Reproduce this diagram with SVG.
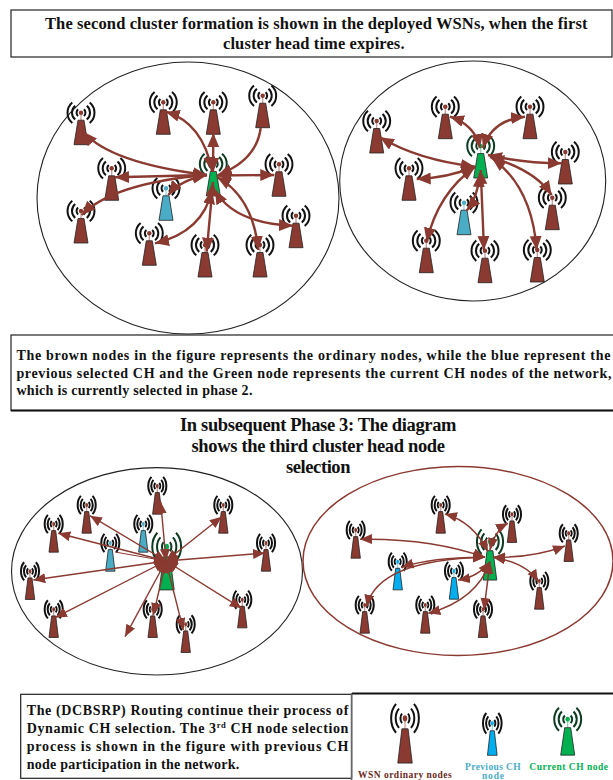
<svg xmlns="http://www.w3.org/2000/svg" width="613" height="780" viewBox="0 0 613 780">
<style>
text{font-family:"Liberation Serif","Times New Roman",serif;font-weight:bold;fill:#111}
.br{color:#8a3a30;--m:#c99a94}.bl{color:#4bacc6;--m:#9ad4e4}.sk{color:#00aeef;--m:#9ad4e4}.gr{color:#00b050;--m:#8fd0a8;--arc:#0c3b22}
.arcs{fill:none;stroke:var(--arc,#111);stroke-width:2;vector-effect:non-scaling-stroke}
.body{fill:currentColor;stroke:#222;stroke-width:.8;vector-effect:non-scaling-stroke}
.mast{stroke:var(--m);stroke-width:1.3;vector-effect:non-scaling-stroke}
.ball{fill:currentColor}
.box{fill:#fff;stroke:#222;stroke-width:1.2}
.cl{fill:none;stroke:#222;stroke-width:1.1}
.e{fill:none;stroke:#8a3a30;marker-start:url(#ah);marker-end:url(#ah)}
.a{stroke-width:2.4}.o{marker-start:none}
.b{stroke-width:1.4;marker-start:url(#ahs);marker-end:url(#ahs)}
.c{stroke-width:1.5;marker-start:url(#ahs);marker-end:url(#ahs)}
.l{font-size:9.5px}
</style>
<defs>
<marker id="ah" markerUnits="userSpaceOnUse" markerWidth="15" markerHeight="13" refX="14" refY="6" orient="auto-start-reverse"><path d="M0 0L14 6L0 12z" fill="#8a3a30"/></marker>
<marker id="ahs" markerUnits="userSpaceOnUse" markerWidth="13" markerHeight="11" refX="12" refY="5" orient="auto-start-reverse"><path d="M0 0L12 5L0 10z" fill="#8a3a30"/></marker>
<g id="t">
<path class="arcs" d="M2.9-3.4A4.5 4.5 0 0 1 2.9 3.4M-2.9-3.4A4.5 4.5 0 0 0-2.9 3.4M5.8-6.9A9 9 0 0 1 5.8 6.9M-5.8-6.9A9 9 0 0 0-5.8 6.9M8.7-10.3A13.5 13.5 0 0 1 8.7 10.3M-8.7-10.3A13.5 13.5 0 0 0-8.7 10.3"/>
<path class="mast" d="M0 0V8"/>
<circle class="ball" r="2.2"/>
<path class="body" d="M-3 7.5H3L7 32H-7z"/>
</g>
</defs>

<g id="cluster-ellipses">
<ellipse class="cl" cx="188" cy="198" rx="151" ry="136"/>
<ellipse class="cl" cx="472.7" cy="181" rx="133" ry="120"/>
<ellipse class="cl" cx="157" cy="571.3" rx="145.5" ry="103.7"/>
<ellipse class="cl" cx="458" cy="561" rx="155" ry="94.5" style="stroke:#8a3a30;stroke-width:1.5"/>
</g>

<g id="box-top"><rect class="box" x="11" y="10" width="601" height="47"/>
<text x="45" y="28.5" font-size="16.5" textLength="542.5">The second cluster formation is shown in the deployed WSNs, when the first</text>
<text x="223" y="48.5" font-size="16.5" textLength="181.5">cluster head time expires.</text></g>

<g id="box-middle"><rect class="box" x="11" y="335" width="608" height="75.5"/><path d="M11 410.5H613" stroke="#111" stroke-width="2.2"/>
<text x="16.4" y="360" font-size="14" textLength="594">The brown nodes in the figure represents the ordinary nodes, while the blue represent the</text>
<text x="16.4" y="377.5" font-size="14" textLength="595">previous selected CH and the Green node represents the current CH nodes of the network,</text>
<text x="16.4" y="395" font-size="14" textLength="236">which is currently selected in phase 2.</text></g>

<g id="title-phase3">
<text x="180" y="431" font-size="18.5" textLength="276.5">In subsequent Phase 3: The diagram</text>
<text x="191.5" y="452" font-size="18.5" textLength="253.5">shows the third cluster head node</text>
<text x="286" y="473" font-size="18.5" textLength="64.5">selection</text></g>

<g id="box-bottom"><rect class="box" x="20.7" y="694.3" width="331" height="84"/>
<text x="26.7" y="715" font-size="14" textLength="321.6">The (DCBSRP) Routing continue their process of</text>
<text x="26.7" y="733.3" font-size="14" textLength="321.6">Dynamic CH selection. The 3<tspan font-size="8.5" dy="-5">rd</tspan><tspan dy="5"> CH node selection</tspan></text>
<text x="26.7" y="751" font-size="14" textLength="321.6">process is shown in the figure with previous CH</text>
<text x="26.7" y="769" font-size="14" textLength="212.6">node participation in the network.</text></g>

<g id="nodes-1">
<g id="n1-1" class="br" transform="translate(81 112.7)"><use href="#t"/></g>
<g id="n1-2" class="br" transform="translate(163.3 102.3)"><use href="#t"/></g>
<g id="n1-3" class="br" transform="translate(213.3 102.3)"><use href="#t"/></g>
<g id="n1-4" class="br" transform="translate(262.7 95.7)"><use href="#t"/></g>
<g id="n1-5" class="gr" transform="translate(213.3 164)"><use href="#t"/></g>
<g id="n1-6" class="br" transform="translate(279 164.3)"><use href="#t"/></g>
<g id="n1-7" class="br" transform="translate(111.7 168.3)"><use href="#t"/></g>
<g id="n1-8" class="bl" transform="translate(166 188.3)"><use href="#t"/></g>
<g id="n1-9" class="br" transform="translate(81 211)"><use href="#t"/></g>
<g id="n1-10" class="br" transform="translate(149.3 233.3)"><use href="#t"/></g>
<g id="n1-11" class="br" transform="translate(205 245)"><use href="#t"/></g>
<g id="n1-12" class="br" transform="translate(260 245)"><use href="#t"/></g>
<g id="n1-13" class="br" transform="translate(296 215.7)"><use href="#t"/></g>
</g>
<g id="nodes-2">
<g id="n2-1" class="br" transform="translate(376.7 121)"><use href="#t"/></g>
<g id="n2-2" class="br" transform="translate(445.3 106.7)"><use href="#t"/></g>
<g id="n2-3" class="br" transform="translate(530 106.7)"><use href="#t"/></g>
<g id="n2-4" class="gr" transform="translate(480.7 146)"><use href="#t"/></g>
<g id="n2-5" class="br" transform="translate(565.3 152)"><use href="#t"/></g>
<g id="n2-6" class="br" transform="translate(409 168.3)"><use href="#t"/></g>
<g id="n2-7" class="br" transform="translate(552.3 197.7)"><use href="#t"/></g>
<g id="n2-8" class="bl" transform="translate(464 202.7)"><use href="#t"/></g>
<g id="n2-9" class="br" transform="translate(426.3 240.7)"><use href="#t"/></g>
<g id="n2-10" class="br" transform="translate(485 250.7)"><use href="#t"/></g>
<g id="n2-11" class="br" transform="translate(537.3 250)"><use href="#t"/></g>
</g>
<g id="nodes-3">
<g id="n3-1" class="br" transform="translate(157.3 486) scale(.67 .88)"><use href="#t"/></g>
<g id="n3-2" class="br" transform="translate(86.7 505) scale(.67 .88)"><use href="#t"/></g>
<g id="n3-3" class="br" transform="translate(223.3 505) scale(.67 .88)"><use href="#t"/></g>
<g id="n3-4" class="br" transform="translate(53.7 524) scale(.67 .88)"><use href="#t"/></g>
<g id="n3-5" class="bl" transform="translate(143.3 524) scale(.67 .88)"><use href="#t"/></g>
<g id="n3-6" class="bl" transform="translate(110.3 543) scale(.67 .88)"><use href="#t"/></g>
<g id="n3-7" class="br" transform="translate(266 543) scale(.67 .88)"><use href="#t"/></g>
<g id="n3-8" class="gr" transform="translate(166.7 546.7) scale(1.07 1.35)"><use href="#t"/></g>
<g id="n3-9" class="br" transform="translate(30 571.3) scale(.67 .88)"><use href="#t"/></g>
<g id="n3-10" class="br" transform="translate(53.7 609.3) scale(.67 .88)"><use href="#t"/></g>
<g id="n3-11" class="br" transform="translate(152.7 609.3) scale(.67 .88)"><use href="#t"/></g>
<g id="n3-12" class="br" transform="translate(242.3 599.7) scale(.67 .88)"><use href="#t"/></g>
<g id="n3-13" class="br" transform="translate(185.7 624.3) scale(.67 .88)"><use href="#t"/></g>
</g>
<g id="nodes-4">
<g id="n4-1" class="br" transform="translate(440.7 505) scale(.67 .88)"><use href="#t"/></g>
<g id="n4-2" class="br" transform="translate(512 514.3) scale(.67 .88)"><use href="#t"/></g>
<g id="n4-3" class="br" transform="translate(355.7 530) scale(.67 .88)"><use href="#t"/></g>
<g id="n4-4" class="br" transform="translate(568.7 533.3) scale(.67 .88)"><use href="#t"/></g>
<g id="n4-5" class="gr" transform="translate(490 541.7) scale(.97 1.2)"><use href="#t"/></g>
<g id="n4-6" class="sk" transform="translate(397.7 561.7) scale(.67 .88)"><use href="#t"/></g>
<g id="n4-7" class="sk" transform="translate(454 571) scale(.67 .88)"><use href="#t"/></g>
<g id="n4-8" class="br" transform="translate(539.3 581) scale(.67 .88)"><use href="#t"/></g>
<g id="n4-9" class="br" transform="translate(364.7 605) scale(.67 .88)"><use href="#t"/></g>
<g id="n4-10" class="br" transform="translate(425.3 605) scale(.67 .88)"><use href="#t"/></g>
<g id="n4-11" class="br" transform="translate(483 609.3) scale(.67 .88)"><use href="#t"/></g>
</g>

<g id="connectors">
<g>
<path class="e a" d="M213 172L213.3 133"/>
<path class="e a" d="M212 171Q203 123 165.7 111.7"/>
<path class="e a o" d="M260.7 128Q256.7 160 218 175"/>
<path class="e a" d="M217 175.5L274.3 175"/>
<path class="e a" d="M215 190Q233 223 293 225.7"/>
<path class="e a" d="M217 177Q253 197 258.3 250"/>
<path class="e a" d="M213 182L206.7 251.7"/>
<path class="e a" d="M212 190Q203 232 155 243.3"/>
<path class="e a" d="M207 175Q180 180 168.3 195"/>
<path class="e a" d="M207 175Q113 183 81.7 215"/>
<path class="e a" d="M207 175L115 177.3"/>
<path class="e a" d="M207 175Q110 163 83.3 131.7"/>
</g>
<g>
<path class="e a" d="M480 148Q475 125 450 116.7"/>
<path class="e a" d="M483 148Q492 120 525 116.7"/>
<path class="e a" d="M475 166.7Q418 160 380 137.3"/>
<path class="e a" d="M475 166.7Q448 178 416.7 179"/>
<path class="e a" d="M488 155Q522 163 561.7 163.3"/>
<path class="e a" d="M490 157Q535 170 551.7 195"/>
<path class="e a" d="M492 158Q532 187 536.7 250"/>
<path class="e a" d="M480.7 170L484 250"/>
<path class="e a" d="M480 173Q478 197 466.7 210.7"/>
<path class="e a" d="M475 167Q438 193 426.7 241.7"/>
</g>
<g>
<path class="e b" d="M166 561L160.7 501.7"/>
<path class="e b" d="M166 561L90 515.7"/>
<path class="e b" d="M166 561L221.7 516.7"/>
<path class="e b" d="M166 561L58.3 533.3"/>
<path d="M166 561L115 552" fill="none" stroke="#8a3a30" stroke-width="1"/>
<path class="e b" d="M166 561L265 553"/>
<path class="e b" d="M166 561L33.3 580"/>
<path class="e b" d="M166 561L55 617.7"/>
<path class="e b" d="M166 561L153.3 615"/>
<path class="e b" d="M166 561L125 636.7"/>
<path class="e b" d="M166 561L241.7 608.3"/>
<path class="e b" d="M166 561L183.3 630"/>
</g>
<g>
<path class="e c" d="M488 551.7Q473 521.7 445 514"/>
<path class="e c" d="M490 550Q495 530 508 523.3"/>
<path class="e c" d="M485 557.3Q430 538 360 539.3"/>
<path class="e c" d="M493 557.3Q533 558 565 546"/>
<path class="e c" d="M485 557.3Q433 557 401.7 567.3"/>
<path class="e c" d="M490 561.7Q478 577 458 580"/>
<path class="e c" d="M493 557.3Q527 563 538 581.7"/>
<path class="e c" d="M485 557.3Q377 560 366.7 606.7"/>
<path class="e c" d="M490 561.7Q477 600 428.3 613.3"/>
<path class="e c" d="M490 561.7L484 610"/>
</g>
</g>

<g id="legend">
<path d="M352 693.5H613" stroke="#111" stroke-width="2"/><path d="M351.5 693V780" stroke="#666" stroke-width="1.5"/>
<g id="leg-ordinary" class="br" transform="translate(405 718.3) scale(1.03 1.4)"><use href="#t"/></g>
<g id="leg-previous" class="sk" transform="translate(492.3 723.3) scale(.69 1)"><use href="#t"/></g>
<g id="leg-current" class="gr" transform="translate(567.7 719.3) scale(1 1.12)"><use href="#t"/></g>
<text class="l" x="358" y="777.5" textLength="93.7" style="fill:#6b2a22">WSN ordinary nodes</text>
<text class="l" x="465" y="769.7" textLength="55.7" style="fill:#4bacc6">Previous CH</text>
<text class="l" x="482" y="779" textLength="22" style="fill:#4bacc6">node</text>
<text class="l" x="529.3" y="769.7" textLength="78.7" style="fill:#00b050">Current CH node</text>
</g>
</svg>
